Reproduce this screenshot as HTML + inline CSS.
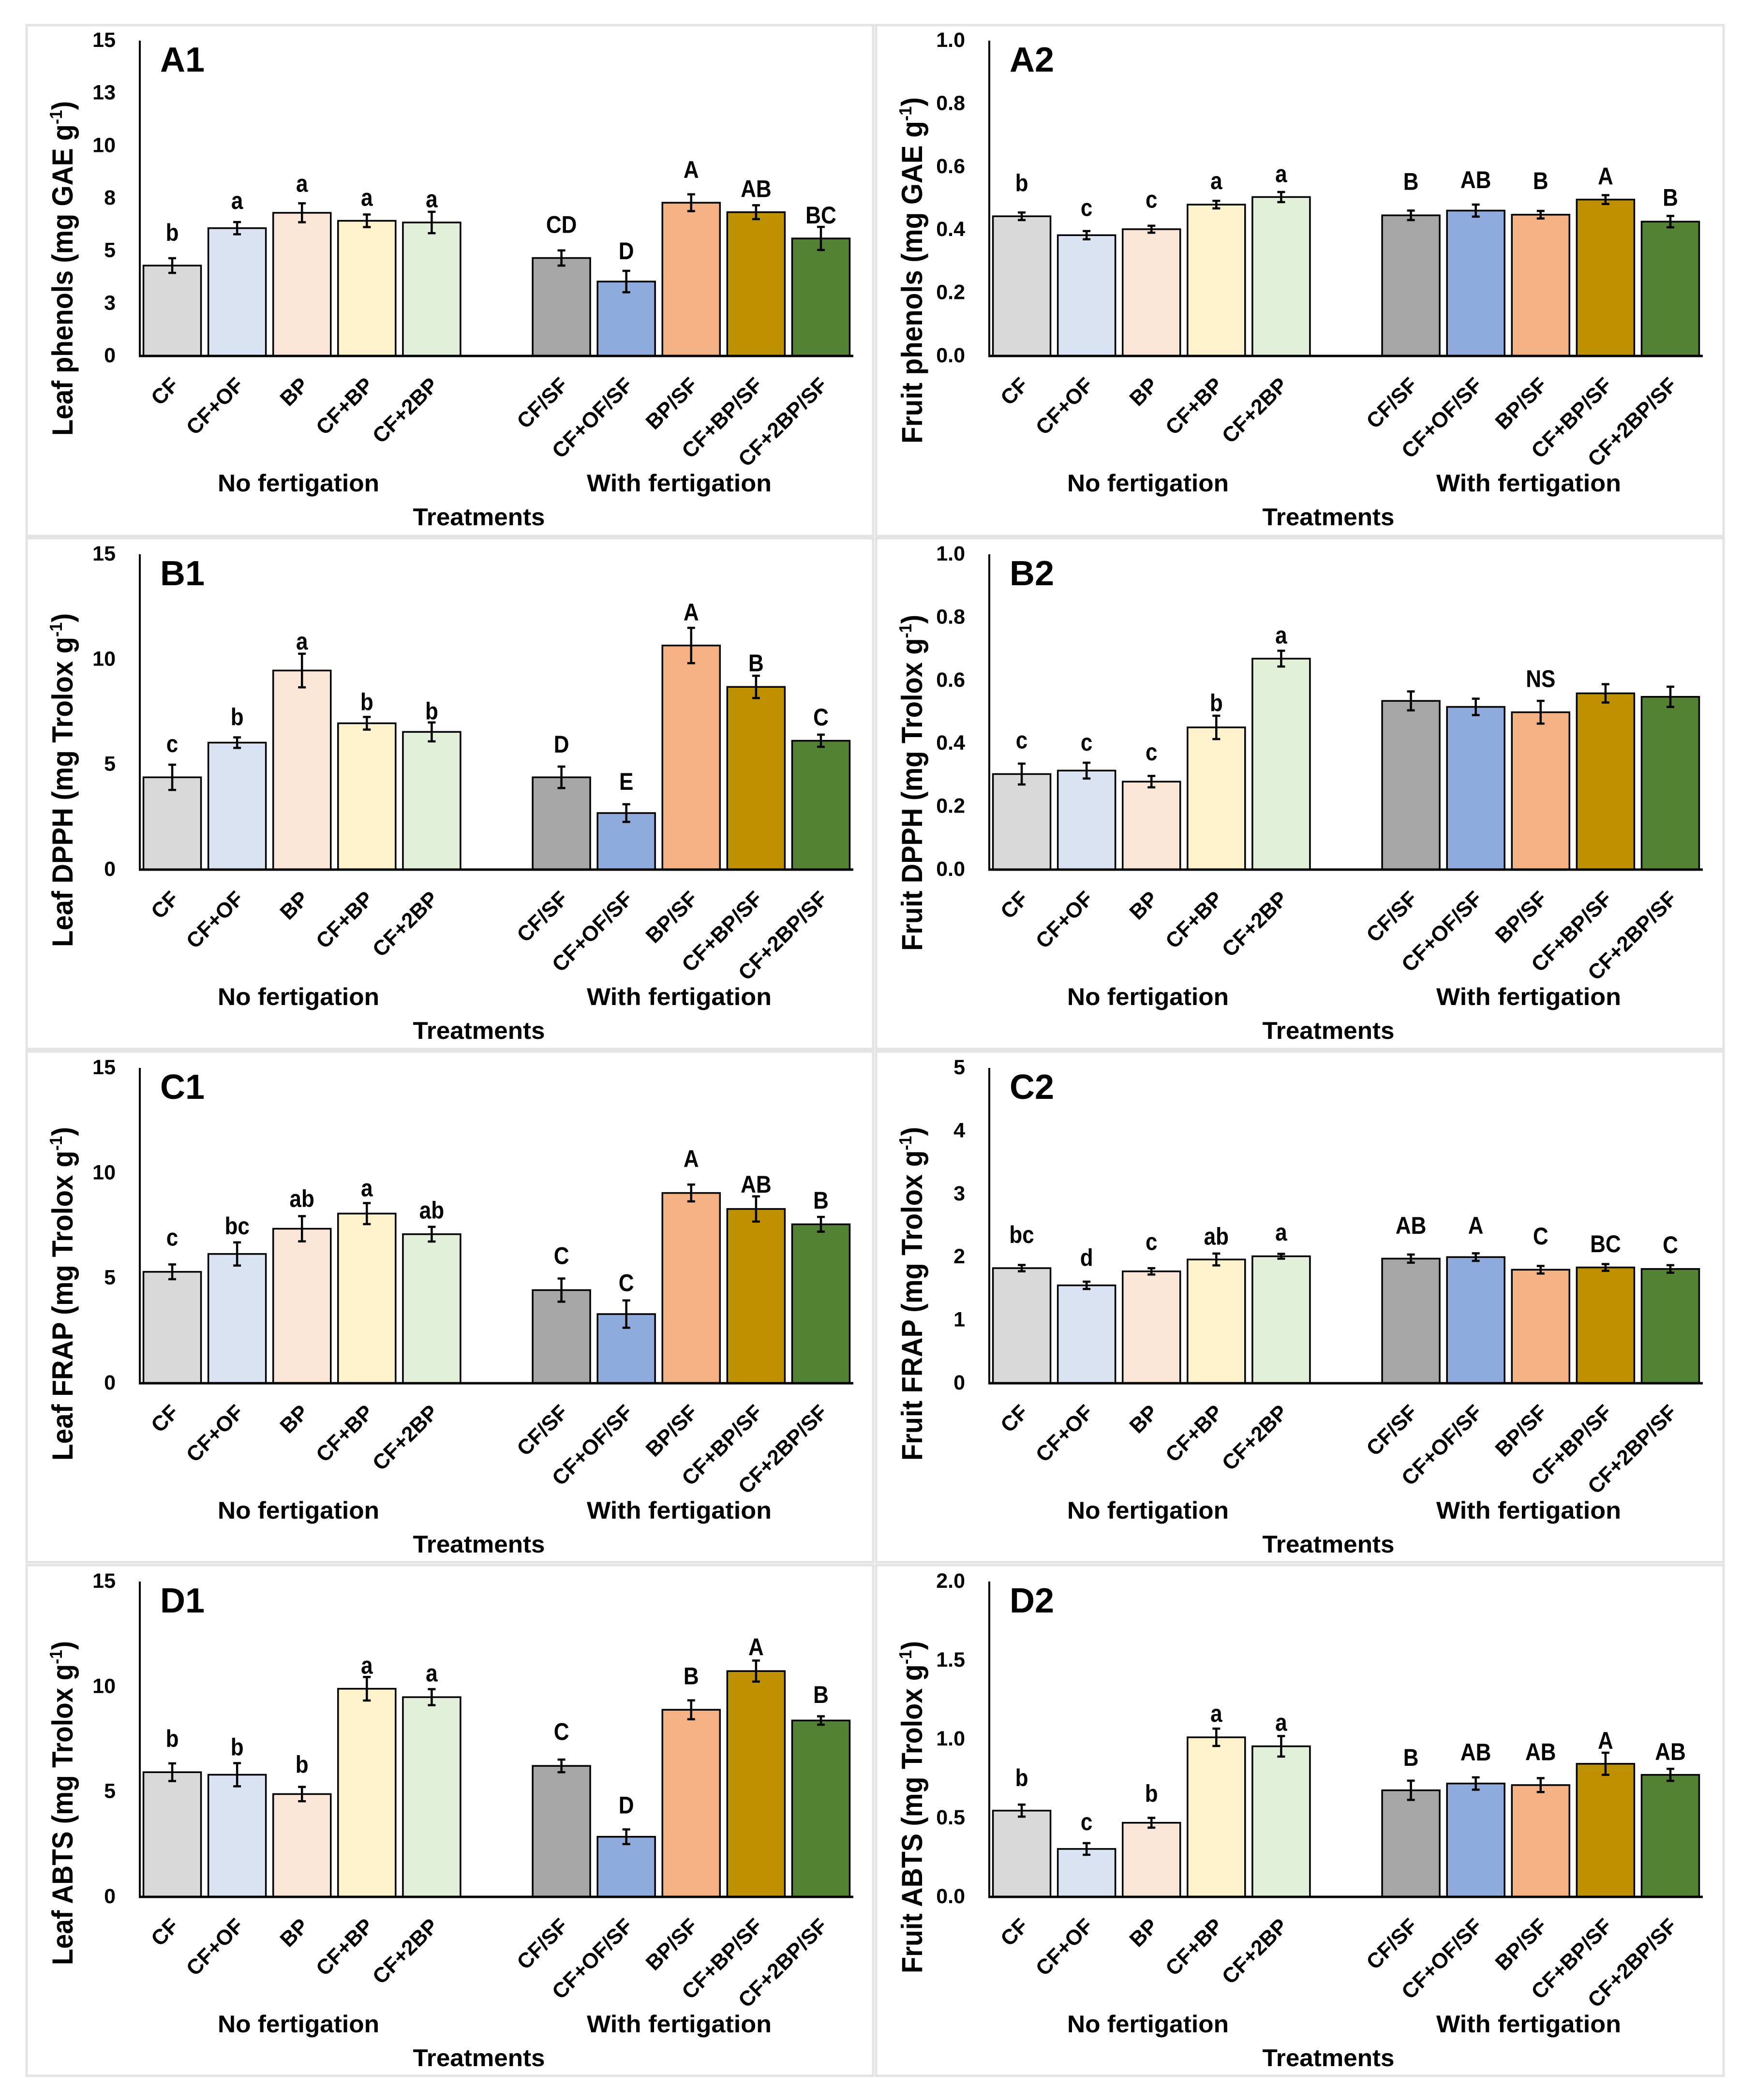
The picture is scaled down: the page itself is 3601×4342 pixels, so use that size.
<!DOCTYPE html>
<html lang="en">
<head>
<meta charset="utf-8">
<title>Leaf and fruit antioxidant assays by treatment</title>
<style>
html,body{margin:0;padding:0;background:#fff;}
body{width:3601px;height:4342px;overflow:hidden;}
svg{display:block;}
text{font-family:"Liberation Sans",Arial,sans-serif;font-weight:bold;fill:#000;}
</style>
</head>
<body>
<svg id="figure" xmlns="http://www.w3.org/2000/svg" width="3601" height="4342" viewBox="0 0 3601 4342"></svg>
<script>
const categories = ['CF','CF+OF','BP','CF+BP','CF+2BP','CF/SF','CF+OF/SF','BP/SF','CF+BP/SF','CF+2BP/SF'];
const groupLabels = ['No fertigation','With fertigation'];
const xAxisTitle = 'Treatments';
const barColors = ['#d9d9d9','#dae3f3','#fbe5d6','#fff2cc','#e2f0d9','#a6a6a6','#8faadc','#f4b183','#bf9000','#548235'];

const a1Values = [4.30,6.08,6.81,6.43,6.35,4.66,3.54,7.29,6.84,5.59];
const a1Errors = [0.35,0.29,0.45,0.30,0.51,0.36,0.51,0.40,0.33,0.55];
const a1Letters = ['b','a','a','a','a','CD','D','A','AB','BC'];
const a1Lift = [0.83,0.62,0.55,0.41,0.21,0.83,0.55,0.78,0.39,0.16];
const a1Ticks = [0,2.5,5,7.5,10,12.5,15];
const a1TickLabels = ['0','3','5','8','10','13','15'];

const a2Values = [0.443,0.383,0.402,0.480,0.504,0.446,0.461,0.448,0.496,0.426];
const a2Errors = [0.012,0.013,0.011,0.012,0.016,0.015,0.019,0.012,0.014,0.018];
const a2Letters = ['b','c','c','a','a','B','AB','B','A','B'];
const a2Lift = [0.067,0.048,0.057,0.037,0.031,0.066,0.052,0.069,0.034,0.032];
const a2Ticks = [0,0.2,0.4,0.6,0.8,1.0];
const a2TickLabels = ['0.0','0.2','0.4','0.6','0.8','1.0'];

const b1Values = [4.39,6.04,9.47,6.96,6.55,4.39,2.69,10.66,8.69,6.13];
const b1Errors = [0.60,0.25,0.80,0.30,0.45,0.51,0.42,0.84,0.53,0.29];
const b1Letters = ['c','b','a','b','b','D','E','A','B','C'];
const b1Lift = [0.60,0.58,0.20,0.32,0.14,0.67,0.69,0.35,0.21,0.44];
const b1Ticks = [0,5,10,15];
const b1TickLabels = ['0','5','10','15'];

const b2Values = [0.303,0.314,0.279,0.451,0.669,0.535,0.516,0.499,0.559,0.548];
const b2Errors = [0.033,0.025,0.018,0.037,0.025,0.030,0.026,0.036,0.029,0.032];
const b2Letters = ['c','c','c','b','a','','','NS','',''];
const b2Lift = [0.048,0.038,0.050,0.014,0.023,0,0,0.044,0,0];
const b2Ticks = [0,0.2,0.4,0.6,0.8,1.0];
const b2TickLabels = ['0.0','0.2','0.4','0.6','0.8','1.0'];

const c1Values = [5.30,6.15,7.35,8.07,7.09,4.43,3.29,9.05,8.29,7.56];
const c1Errors = [0.35,0.55,0.60,0.50,0.35,0.55,0.65,0.40,0.60,0.35];
const c1Letters = ['c','bc','ab','a','ab','C','C','A','AB','B'];
const c1Lift = [0.90,0.39,0.44,0.32,0.39,0.69,0.44,0.83,0.18,0.39];
const c1Ticks = [0,5,10,15];
const c1TickLabels = ['0','5','10','15'];

const c2Values = [1.825,1.552,1.774,1.962,2.013,1.976,2.000,1.800,1.836,1.812];
const c2Errors = [0.050,0.058,0.050,0.094,0.038,0.065,0.060,0.060,0.053,0.060];
const c2Letters = ['bc','d','c','ab','a','AB','A','C','BC','C'];
const c2Lift = [0.35,0.25,0.29,0.14,0.21,0.33,0.31,0.34,0.19,0.19];
const c2Ticks = [0,1,2,3,4,5];
const c2TickLabels = ['0','1','2','3','4','5'];

const d1Values = [5.93,5.81,4.89,9.90,9.50,6.23,2.86,8.90,10.74,8.39];
const d1Errors = [0.42,0.55,0.34,0.56,0.38,0.30,0.35,0.45,0.50,0.20];
const d1Letters = ['b','b','b','a','a','C','D','B','A','B'];
const d1Lift = [0.78,0.37,0.67,0.16,0.37,0.94,0.76,0.76,0.25,0.64];
const d1Ticks = [0,5,10,15];
const d1TickLabels = ['0','5','10','15'];

const d2Values = [0.547,0.304,0.470,1.012,0.955,0.676,0.719,0.709,0.844,0.774];
const d2Errors = [0.038,0.037,0.031,0.055,0.065,0.061,0.039,0.044,0.070,0.038];
const d2Letters = ['b','c','b','a','a','B','AB','AB','A','AB'];
const d2Lift = [0.117,0.083,0.101,0.044,0.034,0.095,0.107,0.113,0.025,0.056];
const d2Ticks = [0,0.5,1.0,1.5,2.0];
const d2TickLabels = ['0.0','0.5','1.0','1.5','2.0'];

const panels = [
  {id:'A1',col:0,row:0,max:15,title:'Leaf phenols (mg GAE g',titleLen:692,titleDrop:165,values:a1Values,errors:a1Errors,letters:a1Letters,lift:a1Lift,ticks:a1Ticks,tickLabels:a1TickLabels},
  {id:'A2',col:1,row:0,max:1,title:'Fruit phenols (mg GAE g',titleLen:716,titleDrop:181,values:a2Values,errors:a2Errors,letters:a2Letters,lift:a2Lift,ticks:a2Ticks,tickLabels:a2TickLabels},
  {id:'B1',col:0,row:1,max:15,title:'Leaf DPPH (mg Trolox g',titleLen:690,titleDrop:160,values:b1Values,errors:b1Errors,letters:b1Letters,lift:b1Lift,ticks:b1Ticks,tickLabels:b1TickLabels},
  {id:'B2',col:1,row:1,max:1,title:'Fruit DPPH (mg Trolox g',titleLen:695,titleDrop:168,values:b2Values,errors:b2Errors,letters:b2Letters,lift:b2Lift,ticks:b2Ticks,tickLabels:b2TickLabels},
  {id:'C1',col:0,row:2,max:15,title:'Leaf FRAP (mg Trolox g',titleLen:690,titleDrop:160,values:c1Values,errors:c1Errors,letters:c1Letters,lift:c1Lift,ticks:c1Ticks,tickLabels:c1TickLabels},
  {id:'C2',col:1,row:2,max:5,title:'Fruit FRAP (mg Trolox g',titleLen:690,titleDrop:160,values:c2Values,errors:c2Errors,letters:c2Letters,lift:c2Lift,ticks:c2Ticks,tickLabels:c2TickLabels},
  {id:'D1',col:0,row:3,max:15,title:'Leaf ABTS (mg Trolox g',titleLen:670,titleDrop:141,values:d1Values,errors:d1Errors,letters:d1Letters,lift:d1Lift,ticks:d1Ticks,tickLabels:d1TickLabels},
  {id:'D2',col:1,row:3,max:2,title:'Fruit ABTS (mg Trolox g',titleLen:687,titleDrop:158,values:d2Values,errors:d2Errors,letters:d2Letters,lift:d2Lift,ticks:d2Ticks,tickLabels:d2TickLabels}
];

const SVG_NS = 'http://www.w3.org/2000/svg';
const root = document.getElementById('figure');
const colOffset = 1756;
const frameLeft = [55, 1811];
const frameWidth = [1750, 1752];
const frameTop = [52, 1113, 2174, 3236];
const frameHeight = [1056, 1056, 1056, 1056];
const baseRows = [736, 1798, 2860, 3922];
const plotHeight = 652;
const plotWidth = 1475;
const axisLeft = 289;
const slots = 11;
const barWidth = 119;

function mk(parent, tag, attrs, content) {
  const el = document.createElementNS(SVG_NS, tag);
  for (const k in attrs) el.setAttribute(k, attrs[k]);
  if (content !== undefined) el.textContent = content;
  parent.appendChild(el);
  return el;
}

function slotIndex(i) { return i < 5 ? i : i + 1; }

function drawPanel(p) {
  const base = baseRows[p.row];
  const left = axisLeft + p.col * colOffset;
  const yScale = v => base - (v / p.max) * plotHeight;
  const xScale = i => left + (slotIndex(i) + 0.5) * (plotWidth / slots);
  const key = p.id.toLowerCase();

  const g = mk(root, 'g', {});
  
  

  const frame = mk(g, 'rect', {x:frameLeft[p.col], y:frameTop[p.row], width:frameWidth[p.col], height:frameHeight[p.row], fill:'#fff', stroke:'#e3e3e3', 'stroke-width':5});
  
  

  p.values.forEach((v, i) => {
    const cx = xScale(i);
    const bar = mk(g, 'rect', {x:cx - barWidth / 2, y:yScale(v), width:barWidth, height:base - yScale(v), fill:barColors[i], stroke:'#000', 'stroke-width':3.5});
    
    
  });

  p.values.forEach((v, i) => {
    const cx = xScale(i);
    const hi = yScale(v + p.errors[i]);
    const lo = yScale(v - p.errors[i]);
    const err = mk(g, 'path', {d:'M' + cx + ' ' + hi + 'V' + lo + 'M' + (cx - 8) + ' ' + hi + 'H' + (cx + 8) + 'M' + (cx - 8) + ' ' + lo + 'H' + (cx + 8), fill:'none', stroke:'#000', 'stroke-width':4.5});
    
    
    if (p.letters[i]) {
      const letter = mk(g, 'text', {x:cx, y:yScale(v + p.errors[i] + p.lift[i]), 'text-anchor':'middle', 'font-size':50}, p.letters[i]);
      
      
      letter.setAttribute('textLength', letter.getComputedTextLength() * 0.88);
      letter.setAttribute('lengthAdjust', 'spacingAndGlyphs');
    }
  });

  const yAxis = mk(g, 'line', {x1:left, x2:left, y1:base - plotHeight, y2:base + 2, stroke:'#000', 'stroke-width':4});
  
  
  const xAxis = mk(g, 'line', {x1:left - 2, x2:left + plotWidth, y1:base, y2:base, stroke:'#000', 'stroke-width':5});
  
  

  p.ticks.forEach((t, i) => {
    const tick = mk(g, 'text', {x:left - 50, y:yScale(t) + 13, 'text-anchor':'end', 'font-size':43}, p.tickLabels[i]);
    
    
  });

  categories.forEach((c, i) => {
    const ax = xScale(i) + 16;
    const ay = base + 63;
    const label = mk(g, 'text', {x:ax, y:ay, 'text-anchor':'end', 'font-size':44, transform:'rotate(-45 ' + ax + ' ' + ay + ')'}, c);
    
    
  });

  const noFert = mk(g, 'text', {x:left + 328, y:base + 280, 'text-anchor':'middle', 'font-size':50, textLength:334, lengthAdjust:'spacingAndGlyphs'}, groupLabels[0]);
  
  
  const withFert = mk(g, 'text', {x:left + 1115, y:base + 280, 'text-anchor':'middle', 'font-size':50, textLength:382, lengthAdjust:'spacingAndGlyphs'}, groupLabels[1]);
  
  
  const xTitle = mk(g, 'text', {x:left + 701, y:base + 350, 'text-anchor':'middle', 'font-size':50, textLength:273, lengthAdjust:'spacingAndGlyphs'}, xAxisTitle);
  
  

  const tx = 150 + p.col * colOffset;
  const ty = base + p.titleDrop;
  const yTitle = mk(g, 'text', {x:tx, y:ty, 'font-size':60, textLength:p.titleLen, lengthAdjust:'spacingAndGlyphs', transform:'rotate(-90 ' + tx + ' ' + ty + ')'});
  
  
  yTitle.appendChild(document.createTextNode(p.title));
  mk(yTitle, 'tspan', {dy:-22, 'font-size':36}, '-1');
  mk(yTitle, 'tspan', {dy:22}, ')');

  const tag = mk(g, 'text', {x:left + 42, y:base - plotHeight + 64, 'font-size':72}, p.id);
  
  
}

panels.forEach(drawPanel);
</script>
</body>
</html>
